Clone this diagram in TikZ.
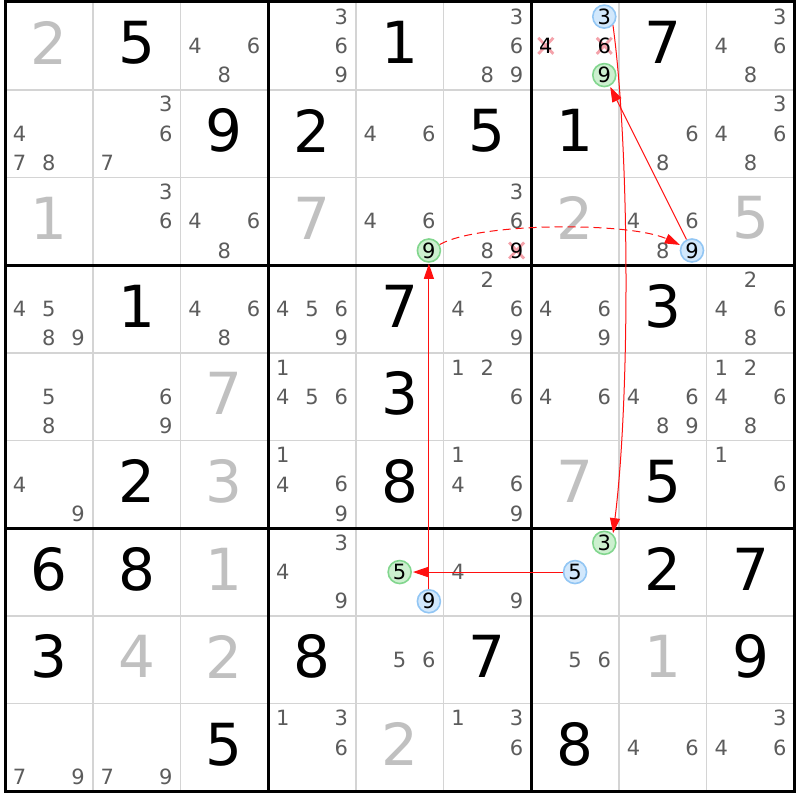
\documentclass[tikz,border=0pt]{standalone}
\usepackage{fontspec}
\setmainfont{DejaVu Sans}
\usetikzlibrary{arrows.meta}
\definecolor{gridgray}{HTML}{D4D4D4}
\definecolor{candgray}{HTML}{5C5C5C}
\definecolor{solvedgray}{HTML}{C0C0C0}
\definecolor{bluefill}{HTML}{D2E8FC}
\definecolor{bluedraw}{HTML}{92C6F4}
\definecolor{greenfill}{HTML}{CCF0CF}
\definecolor{greendraw}{HTML}{82D68E}
\definecolor{crosscol}{HTML}{F4A2AA}
\definecolor{linkred}{HTML}{FF1010}
\newcommand\Giv[3]{\node[bigd] (g#1#2) at ({5+(#2-0.5)*87.7},{2+(#1-0.5)*87.7-3}) {#3};}
\newcommand\Sol[3]{\node[bigd,text=solvedgray] (g#1#2) at ({5+(#2-0.5)*87.7},{2+(#1-0.5)*87.7-3}) {#3};}
\newcommand\Cnd[4]{%
  \pgfmathsetmacro\kx{5+(#3-1)*87.7+(mod(#4-1,3)+0.5)*29.2333}%
  \pgfmathsetmacro\ky{2+(#2-1)*87.7+(floor((#4-1)/3)+0.5)*29.2333}%
  \node[#1] (k#2#3#4) at (\kx,\ky) {#4};}
\newcommand\Cands[3]{\foreach \d in {#3}{\Cnd{cand}{#1}{#2}{\d}}}
\newcommand\Crs[3]{%
  \pgfmathsetmacro\kx{5+(#2-1)*87.7+(mod(#3-1,3)+0.5)*29.2333}%
  \pgfmathsetmacro\ky{2+(#1-1)*87.7+(floor((#3-1)/3)+0.5)*29.2333}%
  \draw[crosscol,line width=2.8pt] ({\kx-7.5},{\ky-8}) -- ({\kx+7.5},{\ky+8})
     ({\kx-7.5},{\ky+8}) -- ({\kx+7.5},{\ky-8});
  \node[candk] (k#1#2#3) at (\kx,\ky) {#3};}
\begin{document}
\begin{tikzpicture}[x=1pt,y=-1pt,
  bigd/.style={font=\fontsize{58}{58}\selectfont,inner sep=0pt,text=black},
  cand/.style={font=\fontsize{21}{21}\selectfont,inner sep=0pt,text=candgray},
  candk/.style={cand,text=black},
  bluec/.style={candk,circle,draw=bluedraw,fill=bluefill,line width=1.6pt,minimum size=23pt},
  greenc/.style={candk,circle,draw=greendraw,fill=greenfill,line width=1.6pt,minimum size=23pt},
  link/.style={draw=linkred,line width=1pt,-{Triangle[length=15pt,width=10pt]},shorten >=1pt},
  dlink/.style={link,dash pattern=on 8pt off 5pt}]
\useasboundingbox (0,0) rectangle (800,800);
\fill[white] (0,0) rectangle (800,800);
% grid
\foreach \i in {1,2,4,5,7,8}{
  \draw[gridgray,line width=1.6pt] ({5+\i*87.7},2) -- ({5+\i*87.7},791.3);
  \draw[gridgray,line width=1.6pt] (5,{2+\i*87.7}) -- (794.3,{2+\i*87.7});
}
\foreach \i in {3,6}{
  \draw[black,line width=3pt] ({5+\i*87.7},2) -- ({5+\i*87.7},791.3);
  \draw[black,line width=3pt] (5,{2+\i*87.7}) -- (794.3,{2+\i*87.7});
}
\draw[black,line width=3pt] (5,2) rectangle (794.3,791.3);
% givens
\Giv{1}{2}{5}\Giv{1}{5}{1}\Giv{1}{8}{7}
\Giv{2}{3}{9}\Giv{2}{4}{2}\Giv{2}{6}{5}\Giv{2}{7}{1}
\Giv{4}{2}{1}\Giv{4}{5}{7}\Giv{4}{8}{3}
\Giv{5}{5}{3}
\Giv{6}{2}{2}\Giv{6}{5}{8}\Giv{6}{8}{5}
\Giv{7}{1}{6}\Giv{7}{2}{8}\Giv{7}{8}{2}\Giv{7}{9}{7}
\Giv{8}{1}{3}\Giv{8}{4}{8}\Giv{8}{6}{7}\Giv{8}{9}{9}
\Giv{9}{3}{5}\Giv{9}{7}{8}
% solved
\Sol{1}{1}{2}\Sol{3}{1}{1}\Sol{3}{4}{7}\Sol{3}{7}{2}\Sol{3}{9}{5}
\Sol{5}{3}{7}\Sol{6}{3}{3}\Sol{6}{7}{7}\Sol{7}{3}{1}
\Sol{8}{2}{4}\Sol{8}{3}{2}\Sol{8}{8}{1}\Sol{9}{5}{2}
% candidates
\Cands{1}{3}{4,6,8}\Cands{1}{4}{3,6,9}\Cands{1}{6}{3,6,8,9}\Cands{1}{9}{3,4,6,8}
\Cands{2}{1}{4,7,8}\Cands{2}{2}{3,6,7}\Cands{2}{5}{4,6}\Cands{2}{8}{6,8}\Cands{2}{9}{3,4,6,8}
\Cands{3}{2}{3,6}\Cands{3}{3}{4,6,8}\Cands{3}{5}{4,6}\Cands{3}{6}{3,6,8}\Cands{3}{8}{4,6,8}
\Cands{4}{1}{4,5,8,9}\Cands{4}{3}{4,6,8}\Cands{4}{4}{4,5,6,9}\Cands{4}{6}{2,4,6,9}\Cands{4}{7}{4,6,9}\Cands{4}{9}{2,4,6,8}
\Cands{5}{1}{5,8}\Cands{5}{2}{6,9}\Cands{5}{4}{1,4,5,6}\Cands{5}{6}{1,2,6}\Cands{5}{7}{4,6}\Cands{5}{8}{4,6,8,9}\Cands{5}{9}{1,2,4,6,8}
\Cands{6}{1}{4,9}\Cands{6}{4}{1,4,6,9}\Cands{6}{6}{1,4,6,9}\Cands{6}{9}{1,6}
\Cands{7}{4}{3,4,9}\Cands{7}{6}{4,9}
\Cands{8}{5}{5,6}\Cands{8}{7}{5,6}
\Cands{9}{1}{7,9}\Cands{9}{2}{7,9}\Cands{9}{4}{1,3,6}\Cands{9}{6}{1,3,6}\Cands{9}{8}{4,6}\Cands{9}{9}{3,4,6}
% eliminated
\Crs{1}{7}{4}\Crs{1}{7}{6}\Crs{3}{6}{9}
% highlighted
\Cnd{bluec}{1}{7}{3}\Cnd{greenc}{1}{7}{9}
\Cnd{greenc}{3}{5}{9}\Cnd{bluec}{3}{8}{9}
\Cnd{greenc}{7}{5}{5}\Cnd{bluec}{7}{5}{9}
\Cnd{greenc}{7}{7}{3}\Cnd{bluec}{7}{7}{5}
% links
\draw[dlink] (k359) .. controls (480,222) and (630,222) .. (k389);
\draw[link] (k389) -- (k179);
\draw[link] (k173.-45) .. controls (630,150) and (630,400) .. (k773.45);
\draw[link] (k775) -- (k755);
\draw[link] (k759) -- (k359);
\end{tikzpicture}
\end{document}
